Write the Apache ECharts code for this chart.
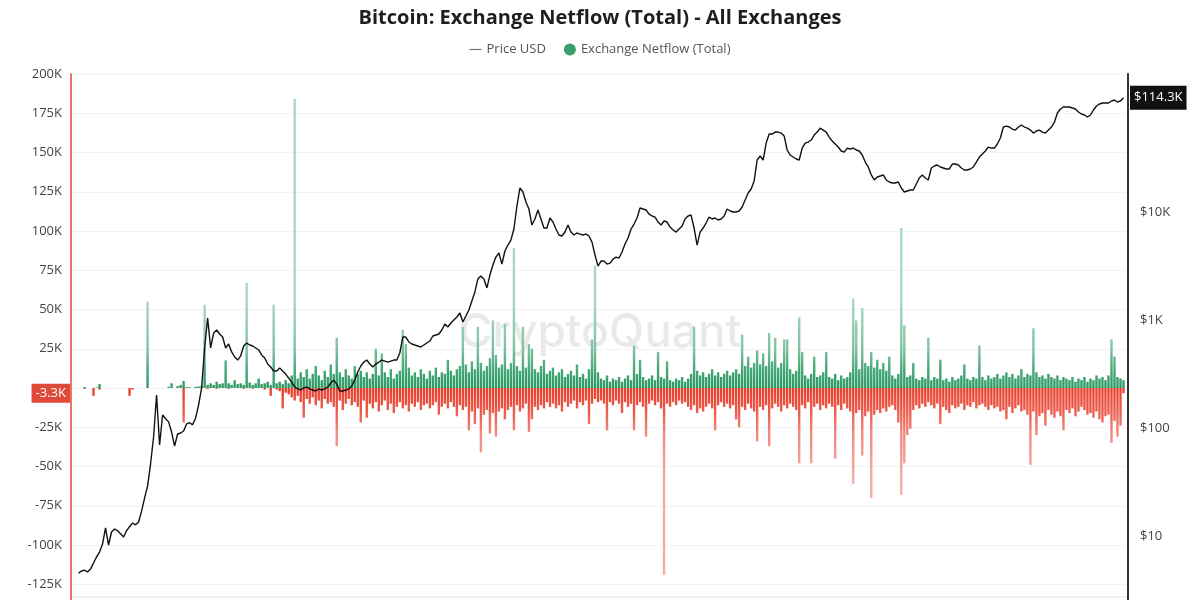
<!DOCTYPE html>
<html>
<head>
<meta charset="utf-8">
<title>Bitcoin: Exchange Netflow (Total) - All Exchanges</title>
<script src="https://cdn.jsdelivr.net/npm/echarts@6/dist/echarts.min.js"></script>
<style>html,body{margin:0;padding:0;background:#fff}#main{width:1200px;height:600px}</style>
</head>
<body>
<div id="main"></div>
<script>
// BTC price in USD, one value per ~2 weeks
var priceUsd = [null, null,
  4.54, 4.74, 4.84, 4.64, 4.94, 5.63, 6.40, 7.11, 8.43, 11.9,
  8.25, 10.9, 11.6, 11.2, 10.5, 9.8, 11.2, 12.2, 13.2, 12.7,
  13.5, 17.0, 22.4, 29.0, 46.4, 82.5, 202, 69.6, 132, 122,
  114, 91.8, 68.1, 88.0, 89.9, 93.8, 109, 112, 107, 124,
  164, 235, 551, 1044, 551, 758, 808, 742, 696, 551,
  600, 506, 455, 426, 465, 575, 613, 587, 575, 551,
  528, 475, 445, 391, 367, 337, 337, 359, 337, 316,
  290, 266, 239, 230, 225, 235, 239, 230, 225, 220,
  230, 225, 230, 239, 261, 278, 255, 220, 220, 225,
  230, 245, 278, 330, 375, 408, 426, 391, 367, 391,
  408, 426, 417, 408, 417, 426, 426, 495, 696, 696,
  626, 600, 587, 575, 562, 587, 613, 639, 711, 726,
  742, 808, 918, 861, 938, 1000, 1066, 1161, 958, 1089,
  1238, 1498, 1820, 2400, 2560, 2400, 1983, 2607, 3227, 3827,
  4174, 3296, 4356, 4944, 5500, 6957, 11360, 16700, 15330, 12360,
  10655, 7578, 8612, 10430, 8612, 7107, 7107, 8798, 8076, 6957,
  6122, 5992, 6524, 7578, 6524, 6122, 6388, 6252, 6122, 6252,
  5992, 5269, 4000, 3159, 3515, 3515, 3296, 3367, 3667, 3827,
  3747, 4263, 5051, 5740, 6957, 7741, 8798, 10885, 10655, 10430,
  9575, 9178, 8980, 8076, 7578, 8253, 8076, 7260, 6810, 6524,
  6957, 7416, 8612, 9178, 9376, 7107, 4944, 6524, 7107, 7907,
  8980, 8612, 8798, 8430, 8612, 9178, 10655, 10211, 10000, 10000,
  10211, 11119, 12900, 15008, 16346, 19384, 30300, 33000, 30300, 43500,
  52700, 52700, 55000, 55000, 53800, 50500, 37500, 33700, 32300, 30950,
  30300, 39100, 43500, 44450, 46400, 51600, 55000, 59900, 57400, 55000,
  49400, 45400, 42600, 39950, 36700, 35900, 39100, 38300, 39100, 37500,
  36700, 33700, 29030, 26120, 22020, 19800, 21110, 21560, 22020, 19800,
  18970, 18570, 18570, 18970, 16700, 15330, 15660, 16000, 16000, 18180,
  20660, 22020, 20660, 19800, 25570, 26680, 27260, 26120, 25570, 25030,
  25030, 27820, 27820, 27250, 25570, 24500, 24500, 25030, 26120, 29030,
  32300, 34430, 36700, 39950, 39100, 39100, 42600, 48400, 61200, 62500,
  61200, 58640, 57400, 61200, 63900, 61200, 59900, 57400, 53800, 56200,
  57400, 55000, 53800, 57400, 61200, 68100, 82500, 89900, 93800, 93800,
  93800, 91800, 89900, 84300, 80800, 79100, 75800, 79100, 88000, 95800,
  99970, 102150, 102150, 102150, 106600, 108900, 104300, 106600, 114300,
  null];

// largest inflow in each bucket, thousand BTC
var netflowIn = [
  0, 0, 0, 0, 0.6, 0, 0, 0, 0.4, 2.5,
  0, 0, 0, 0, 0, 0, 0, 0, 0, 0,
  0, 0, 0, 0, 0, 55, 0, 0, 0, 0,
  0, 0, 0.8, 3, 0, 1.2, 2, 4.5, 0.6, 0.5,
  0, 0.8, 1, 1.5, 53, 2, 3, 2, 4, 2.5,
  3, 17.6, 3, 2, 5, 2.5, 3, 2, 67, 3.5,
  2, 3, 6, 2.5, 3, 4, 2, 53, 3, 4,
  2.5, 5, 3, 8, 184, 6, 10, 7, 12, 6,
  9, 14, 8, 5, 11, 7, 15, 9, 32, 10,
  7, 12, 8, 6, 14, 9, 11, 7, 10, 6,
  9, 25, 8, 22, 10, 7, 12, 6, 9, 11,
  37, 28, 13, 8, 10, 7, 12, 9, 6, 11,
  8, 13, 7, 10, 9, 18, 11, 8, 12, 14,
  39, 15, 10, 17, 12, 39, 16, 11, 14, 19,
  43, 21, 13, 15, 41, 12, 16, 89, 14, 11,
  39, 13, 28, 25, 12, 10, 14, 18, 9, 11,
  13, 8, 10, 12, 7, 9, 11, 8, 15, 7,
  9, 6, 12, 31, 78, 10, 6, 5, 8, 4,
  6, 5, 7, 4, 6, 8, 5, 27, 9, 18,
  7, 5, 6, 8, 5, 23, 7, 6, 17, 5,
  4, 6, 5, 7, 4, 6, 9, 39, 11, 8,
  10, 7, 9, 12, 8, 10, 7, 9, 11, 8,
  10, 12, 9, 34, 14, 20, 13, 16, 24, 15,
  22, 14, 35, 17, 32, 13, 16, 31, 31, 12,
  9, 11, 45, 23, 8, 6, 9, 20, 7, 8,
  10, 23, 7, 6, 9, 5, 8, 6, 7, 10,
  57, 43, 12, 51, 16, 14, 23, 13, 18, 12,
  16, 11, 20, 8, 6, 9, 102, 40, 7, 8,
  16, 6, 5, 7, 6, 32, 5, 7, 6, 18,
  5, 6, 4, 7, 5, 6, 8, 15, 6, 5,
  7, 6, 27, 7, 5, 8, 6, 7, 9, 6,
  8, 10, 7, 9, 6, 8, 12, 7, 9, 8,
  38, 10, 7, 8, 6, 9, 7, 6, 8, 5,
  7, 6, 5, 7, 4, 6, 5, 7, 4, 6,
  5, 8, 6, 7, 5, 8, 31, 20, 7, 6,
  5, 0];

// largest outflow in each bucket, thousand BTC
var netflowOut = [
  0, 0, 0, 0, -0.5, 0, 0, -5, 0, -1,
  0, 0, 0, 0, 0, 0, 0, 0, 0, -5,
  -1, 0, 0, 0, 0, 0, 0, 0, 0, 0,
  0, 0, 0, 0, 0, 0, 0, -22, 0, 0,
  0, 0, 0, 0, 0, -0.5, 0, 0, -0.5, 0,
  0, 0, -0.5, 0, 0, 0, 0, -0.5, 0, 0,
  -0.5, 0, 0, 0, -1, 0, -5, 0, -1, -2,
  -13, -3, -4, -6, -8, -5, -9, -19, -7, -10,
  -6, -11, -8, -13, -7, -10, -9, -12, -37, -8,
  -14, -10, -7, -11, -9, -12, -22, -8, -19, -10,
  -13, -9, -15, -11, -8, -14, -10, -16, -12, -9,
  -13, -11, -15, -10, -12, -9, -14, -11, -10, -13,
  -11, -9, -17, -12, -10, -13, -9, -12, -18, -11,
  -14, -12, -27, -15, -23, -13, -41, -17, -14, -29,
  -16, -31, -15, -13, -20, -14, -12, -27, -11, -15,
  -13, -10, -28, -20, -12, -14, -11, -13, -9, -12,
  -10, -13, -11, -15, -9, -12, -10, -8, -13, -9,
  -11, -8, -23, -10, -7, -9, -8, -10, -27, -9,
  -11, -8, -10, -16, -9, -12, -10, -27, -11, -9,
  -12, -31, -10, -8, -11, -9, -13, -119, -10, -12,
  -9, -11, -8, -10, -9, -12, -14, -11, -16, -13,
  -15, -12, -10, -13, -27, -11, -9, -12, -10, -13,
  -11, -20, -25, -12, -14, -10, -13, -15, -34, -12,
  -14, -11, -37, -13, -10, -12, -15, -11, -13, -10,
  -12, -14, -48, -11, -13, -9, -48, -12, -10, -14,
  -11, -13, -10, -12, -45, -11, -14, -10, -13, -15,
  -61, -16, -14, -43, -18, -15, -70, -17, -14, -16,
  -13, -15, -12, -11, -14, -22, -68, -48, -30, -26,
  -14, -11, -13, -10, -12, -9, -11, -13, -10, -23,
  -12, -14, -16, -11, -13, -12, -10, -14, -11, -12,
  -9, -13, -11, -10, -12, -14, -11, -13, -12, -15,
  -14, -20, -12, -16, -13, -11, -15, -14, -17, -49,
  -15, -30, -18, -16, -24, -14, -17, -19, -15, -18,
  -27, -14, -16, -13, -18, -15, -12, -14, -17, -16,
  -19, -15, -20, -22, -18, -17, -35, -21, -31, -24,
  -3.3, 0];

var latestNetflow = -3.3;
var latestPrice = 114300;

// bucket dates (labels are hidden on the chart)
var dates = [];
var t0 = Date.UTC(2012, 1, 20);
for (var i = 0; i < priceUsd.length; i++) {
    dates.push(new Date(t0 + i * 14 * 86400000).toISOString().slice(0, 10));
}

// dense colour near the zero line, pale towards the thin spike tips
var greenFill = new echarts.graphic.LinearGradient(0, 300, 0, 388, [
    {offset: 0, color: '#a9d8c1'},
    {offset: 0.55, color: '#7fc2a2'},
    {offset: 0.82, color: '#3fa574'},
    {offset: 1, color: '#2e9963'}
], true);
var redFill = new echarts.graphic.LinearGradient(0, 388, 0, 480, [
    {offset: 0, color: '#e8402e'},
    {offset: 0.25, color: '#ec5a4a'},
    {offset: 0.5, color: '#f28a7f'},
    {offset: 1, color: '#f6aba3'}
], true);

var myChart = echarts.init(document.getElementById('main'));
var option = {
    animation: false,
    backgroundColor: '#fff',
    title: {
        text: 'Bitcoin: Exchange Netflow (Total) - All Exchanges',
        left: 'center',
        top: 3,
        textStyle: {fontFamily: 'Open Sans', fontSize: 20, fontWeight: 'bold', color: '#1e1e1e'}
    },
    legend: {
        top: 38,
        left: 'center',
        itemWidth: 12,
        itemHeight: 12,
        itemGap: 18,
        textStyle: {fontFamily: 'Open Sans', fontSize: 13, color: '#555'},
        data: [
            {name: 'Price USD', icon: 'path://M0,0 L12,0 L12,1.2 L0,1.2 Z', itemStyle: {color: '#777'}},
            {name: 'Exchange Netflow (Total)', icon: 'circle', itemStyle: {color: '#3a9e6e'}}
        ]
    },
    graphic: [
        {
            type: 'text', left: 'center', top: 310, silent: true, z: -1,
            style: {text: 'CryptoQuant', fontFamily: 'Inter', fontSize: 46, fontWeight: 500, fill: 'rgba(0,0,0,0.085)'}
        },
        {
            type: 'line', silent: true,
            shape: {x1: 71, y1: 597, x2: 1128, y2: 597},
            style: {stroke: '#e3e3e3', lineWidth: 1}
        }
    ],
    grid: {left: 71, right: 72, top: 74, height: 549.5, containLabel: false, outerBoundsMode: 'none'},
    xAxis: {
        type: 'category',
        data: dates,
        axisLine: {show: false},
        axisTick: {show: false},
        axisLabel: {show: false},
        splitLine: {show: false}
    },
    yAxis: [
        {
            type: 'value',
            position: 'left',
            min: -150,
            max: 200,
            interval: 25,
            axisLine: {show: true, lineStyle: {color: '#e0483a', width: 1.5}},
            axisTick: {show: false},
            axisLabel: {
                margin: 9,
                fontFamily: 'Open Sans',
                fontSize: 13,
                color: '#444',
                formatter: function (v) { return v === 0 ? '' : v + 'K'; }
            },
            splitLine: {lineStyle: {color: '#f3f3f3'}}
        },
        {
            type: 'log',
            position: 'right',
            logBase: 10,
            min: 1.549,
            max: 189600,
            axisLine: {show: true, lineStyle: {color: '#333', width: 2}},
            axisTick: {show: false},
            splitLine: {show: false},
            axisLabel: {
                margin: 12,
                fontFamily: 'Open Sans',
                fontSize: 13,
                color: '#444',
                showMinLabel: false,
                showMaxLabel: false,
                formatter: function (v) {
                    var e = Math.log10(v);
                    if (Math.abs(e - Math.round(e)) > 1e-6 || v < 10 || v >= 1e5) return '';
                    return v >= 1000 ? '$' + (v / 1000) + 'K' : '$' + Math.round(v);
                }
            }
        }
    ],
    series: [
        {
            name: 'Exchange Netflow (Total)',
            type: 'bar',
            yAxisIndex: 0,
            barWidth: 2.4,
            itemStyle: {color: greenFill},
            data: netflowIn
        },
        {
            name: 'Exchange Netflow (Total)',
            type: 'bar',
            yAxisIndex: 0,
            barWidth: 2.4,
            barGap: '-100%',
            itemStyle: {color: redFill},
            data: netflowOut,
            markLine: {
                silent: true,
                symbol: 'none',
                lineStyle: {color: 'transparent', width: 0},
                data: [{yAxis: latestNetflow}],
                label: {
                    show: true,
                    position: 'start',
                    distance: 1,
                    formatter: function (p) { return p.value + 'K'; },
                    backgroundColor: '#e0483a',
                    color: '#fff',
                    fontFamily: 'Open Sans',
                    fontSize: 13,
                    padding: [3, 4, 3, 4]
                }
            }
        },
        {
            name: 'Price USD',
            type: 'line',
            yAxisIndex: 1,
            symbol: 'none',
            z: 5,
            lineStyle: {color: '#111', width: 1.4},
            itemStyle: {color: '#111'},
            data: priceUsd,
            markLine: {
                silent: true,
                symbol: 'none',
                lineStyle: {color: 'transparent', width: 0},
                data: [{yAxis: latestPrice}],
                label: {
                    show: true,
                    position: 'end',
                    distance: 2,
                    formatter: function (p) { return '$' + (p.value / 1000).toFixed(1) + 'K'; },
                    backgroundColor: '#111',
                    color: '#fff',
                    fontFamily: 'Open Sans',
                    fontSize: 13,
                    padding: [6, 4, 5, 4]
                }
            }
        }
    ]
};
myChart.setOption(option);
</script>
</body>
</html>
